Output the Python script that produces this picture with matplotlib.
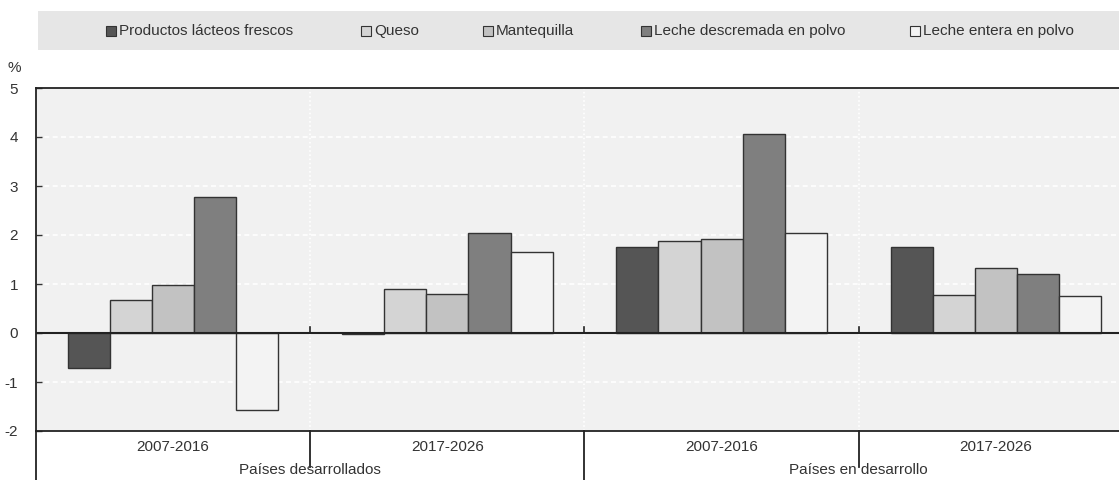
import matplotlib.pyplot as plt
from matplotlib.patches import Rectangle
import numpy as np

plt.rcParams['font.family'] = ['Liberation Sans', 'DejaVu Sans']

# annual growth of dairy consumption, %
products = ['Productos lácteos frescos', 'Queso', 'Mantequilla',
            'Leche descremada en polvo', 'Leche entera en polvo']
periods = ['2007-2016', '2017-2026', '2007-2016', '2017-2026']
regions = ['Países desarrollados', 'Países en desarrollo']

fresh = [-0.72, -0.03, 1.75, 1.75]
cheese = [0.67, 0.90, 1.88, 0.77]
butter = [0.97, 0.80, 1.92, 1.33]
smp = [2.77, 2.05, 4.07, 1.20]
wmp = [-1.57, 1.65, 2.05, 0.75]
series = [fresh, cheese, butter, smp, wmp]

colors = ['#555555', '#d4d4d4', '#c2c2c2', '#7f7f7f', '#f3f3f3']
txt = '#333333'
fs = 11

fig = plt.figure(figsize=(11.19, 4.8), dpi=100)
ax = fig.add_axes([36 / 1119, 49 / 480, 1097 / 1119, 343 / 480])
ax.set_facecolor('#f1f1f1')

x = np.arange(len(periods))
w = 0.1535
for i, vals in enumerate(series):
    ax.bar(x + (i - 2) * w, vals, width=w, color=colors[i],
           edgecolor='#333333', linewidth=1.0, zorder=3)

ax.set_xlim(-0.5, 3.5)
ax.set_ylim(-2, 5)
ax.set_yticks(range(-2, 6))
ax.set_yticklabels([str(v) for v in range(-2, 6)], fontsize=fs, color=txt)
ax.tick_params(axis='y', direction='in', length=4, width=1, pad=13, color='#333333')
ax.set_xticks([])

# white grid inside the plot
for yv in range(-1, 5):
    if yv != 0:
        ax.axhline(yv, color='white', lw=1.2, ls=(0, (3, 2)), zorder=1)
for xv in [0.5, 1.5, 2.5]:
    ax.axvline(xv, color='white', lw=1.2, ls=(0, (1, 1.5)), zorder=1)

ax.axhline(0, color='#222222', lw=1.5, zorder=4)
ax.spines['right'].set_visible(False)
for s in ['top', 'bottom', 'left']:
    ax.spines[s].set_color('#222222')
    ax.spines[s].set_linewidth(1.3)

# small marks on the zero line at group borders
for xv in [0.5, 1.5, 2.5]:
    ax.plot([xv, xv], [0, 0.12], color='#222222', lw=1.2, zorder=4)

# two-level category axis
tr = ax.get_xaxis_transform()
for xi, p in zip(x, periods):
    ax.text(xi, -0.047, p, transform=tr, ha='center', va='center', fontsize=fs, color=txt)
for k, r in enumerate(regions):
    ax.text(2 * k + 0.5, -0.113, r, transform=tr, ha='center', va='center', fontsize=fs, color=txt)
for xv in [0.5, 2.5]:
    ax.plot([xv, xv], [0, -0.105], transform=tr, color='#222222', lw=1.3, clip_on=False)
ax.plot([1.5, 1.5], [0, -0.15], transform=tr, color='#222222', lw=1.3, clip_on=False)
ax.plot([-0.5, -0.5], [0, -0.15], transform=tr, color='#222222', lw=1.3, clip_on=False)

fig.text(14 / 1119, 1 - 68 / 480, '%', fontsize=fs, color=txt, ha='center', va='center')

# legend band
fig.patches.append(Rectangle((38 / 1119, 1 - 50 / 480), 1081 / 1119, 39 / 480,
                             transform=fig.transFigure, facecolor='#e6e6e6',
                             edgecolor='none', zorder=0))
leg_x = [106, 361, 483, 641, 910]
for px, name, c in zip(leg_x, products, colors):
    fig.patches.append(Rectangle((px / 1119, 1 - 36 / 480), 10 / 1119, 10 / 480,
                                 transform=fig.transFigure, facecolor=c,
                                 edgecolor='#333333', linewidth=0.8, zorder=1))
    fig.text((px + 13) / 1119, 1 - 31 / 480, name, fontsize=fs, color=txt,
             ha='left', va='center')

plt.savefig('out.png', dpi=100)
